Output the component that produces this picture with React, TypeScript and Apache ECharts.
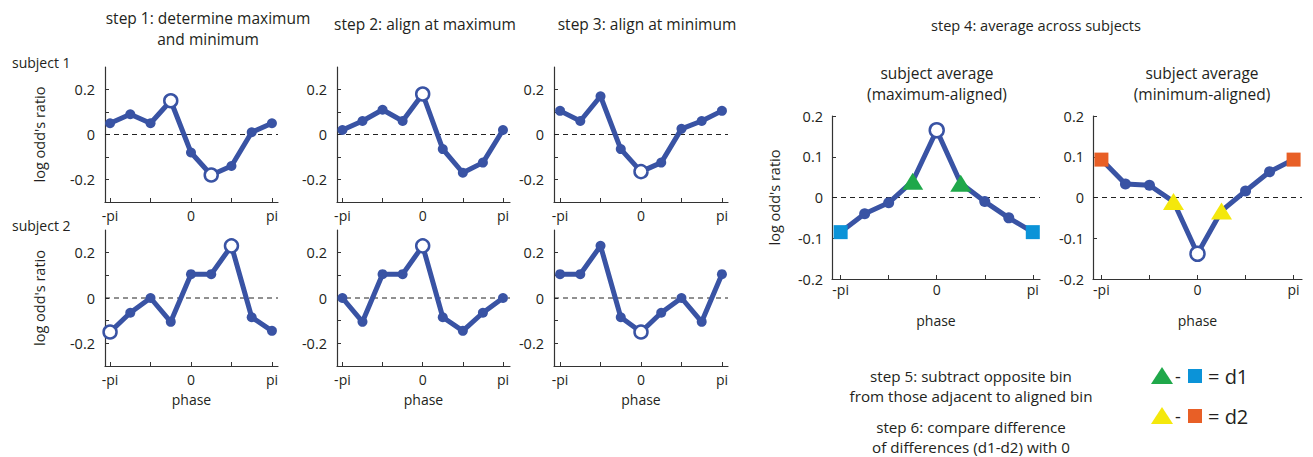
import React, { useEffect, useRef } from "react";
import * as echarts from "echarts";

// ---- data ----
const phaseTicks = [0, 2, 4, 6, 8];
const phaseLabelValues = [0, 4, 8];
const phaseLabels = ["-pi", "0", "pi"];

const subject1Step1 = [0.05, 0.09, 0.05, 0.15, -0.08, -0.18, -0.14, 0.01, 0.05];
const subject1Step2 = [0.02, 0.06, 0.11, 0.06, 0.18, -0.065, -0.17, -0.125, 0.02];
const subject1Step3 = [0.105, 0.06, 0.17, -0.065, -0.165, -0.125, 0.025, 0.06, 0.105];
const subject2Step1 = [-0.15, -0.065, 0, -0.105, 0.105, 0.105, 0.23, -0.085, -0.145];
const subject2Step2 = [0, -0.105, 0.105, 0.105, 0.23, -0.085, -0.145, -0.065, 0];
const subject2Step3 = [0.105, 0.105, 0.23, -0.085, -0.15, -0.065, 0, -0.105, 0.105];
const avgMaxAligned = [-0.085, -0.04, -0.013, 0.04, 0.165, 0.035, -0.01, -0.05, -0.085];
const avgMinAligned = [0.093, 0.033, 0.03, -0.01, -0.138, -0.033, 0.016, 0.063, 0.093];

const subjectTicks = [-0.2, -0.1, 0, 0.1, 0.2];
const subjectTickLabels = [-0.2, 0, 0.2];
const averageTicks = [-0.2, -0.1, 0, 0.1, 0.2];

// ---- styles ----
const BLUE = "#3953a4";
const GREEN = "#1fa84a";
const LIGHTBLUE = "#0b93d8";
const ORANGE = "#e85f26";
const YELLOW = "#f4e80c";
const TEXT = "#231f20";
const FONT = "'Open Sans', 'Noto Sans', sans-serif";

type Panel = {
  data: number[];
  left: number;
  top: number;
  width: number;
  height: number;
  xMin: number;
  xMax: number;
  yMin: number;
  yMax: number;
  yTicks: number[];
  yLabels: number[];
  yName?: boolean;
  xName?: boolean;
  avg?: boolean;
  open: "both" | "max" | "min";
  tri?: string;
  sq?: string;
};

const panels: Panel[] = [
  { data: subject1Step1, left: 105, top: 67, width: 173, height: 135, xMin: -0.25, xMax: 8.3, yMin: -0.3, yMax: 0.3, yTicks: subjectTicks, yLabels: subjectTickLabels, yName: true, open: "both" },
  { data: subject1Step2, left: 337, top: 67, width: 173, height: 135, xMin: -0.27, xMax: 8.35, yMin: -0.3, yMax: 0.3, yTicks: subjectTicks, yLabels: subjectTickLabels, open: "max" },
  { data: subject1Step3, left: 554, top: 67, width: 174, height: 135, xMin: -0.3, xMax: 8.3, yMin: -0.3, yMax: 0.3, yTicks: subjectTicks, yLabels: subjectTickLabels, open: "min" },
  { data: subject2Step1, left: 105, top: 230, width: 173, height: 136, xMin: -0.25, xMax: 8.3, yMin: -0.3, yMax: 0.3, yTicks: subjectTicks, yLabels: subjectTickLabels, yName: true, xName: true, open: "both" },
  { data: subject2Step2, left: 337, top: 230, width: 173, height: 136, xMin: -0.27, xMax: 8.35, yMin: -0.3, yMax: 0.3, yTicks: subjectTicks, yLabels: subjectTickLabels, xName: true, open: "max" },
  { data: subject2Step3, left: 554, top: 230, width: 174, height: 136, xMin: -0.3, xMax: 8.3, yMin: -0.3, yMax: 0.3, yTicks: subjectTicks, yLabels: subjectTickLabels, xName: true, open: "min" },
  { data: avgMaxAligned, left: 832, top: 116, width: 208, height: 163, xMin: -0.36, xMax: 8.3, yMin: -0.2, yMax: 0.2, yTicks: averageTicks, yLabels: averageTicks, yName: true, xName: true, avg: true, open: "max", tri: GREEN, sq: LIGHTBLUE },
  { data: avgMinAligned, left: 1093, top: 116, width: 209, height: 163, xMin: -0.35, xMax: 8.35, yMin: -0.2, yMax: 0.2, yTicks: averageTicks, yLabels: averageTicks, xName: true, avg: true, open: "min", tri: YELLOW, sq: ORANGE },
];

function argMax(a: number[]) {
  let k = 0;
  a.forEach((v, i) => { if (v > a[k]) k = i; });
  return k;
}
function argMin(a: number[]) {
  let k = 0;
  a.forEach((v, i) => { if (v < a[k]) k = i; });
  return k;
}

function fmtY(v: number) {
  if (Math.abs(v) < 1e-9) return "0";
  return v.toFixed(1);
}

function buildOption() {
  const grid: any[] = [];
  const xAxis: any[] = [];
  const yAxis: any[] = [];
  const series: any[] = [];

  panels.forEach((p, gi) => {
    grid.push({ left: p.left, top: p.top, width: p.width, height: p.height, containLabel: false });
    xAxis.push({
      type: "value",
      gridIndex: gi,
      min: p.xMin,
      max: p.xMax,
      splitLine: { show: false },
      axisLine: { show: true, onZero: false, lineStyle: { color: "#333", width: 1.2 } },
      axisTick: { show: true, inside: true, length: 4, customValues: phaseTicks, lineStyle: { color: "#333" } },
      axisLabel: {
        show: true,
        customValues: phaseLabelValues,
        formatter: (v: number) => phaseLabels[phaseLabelValues.indexOf(Math.round(v))] ?? "",
        margin: p.avg ? 3 : 6,
        color: TEXT,
        fontSize: 14,
        lineHeight: 14,
        fontFamily: FONT,
      },
      name: p.xName ? "phase" : "",
      nameLocation: "middle",
      nameGap: p.avg ? 34 : 26,
      nameMoveOverlap: false,
      nameTextStyle: { color: TEXT, fontSize: 14, lineHeight: 14, fontFamily: FONT },
    });
    yAxis.push({
      type: "value",
      gridIndex: gi,
      min: p.yMin,
      max: p.yMax,
      splitLine: { show: false },
      axisLine: { show: true, onZero: false, lineStyle: { color: "#333", width: 1.2 } },
      axisTick: { show: true, inside: true, length: 4, customValues: p.yTicks, lineStyle: { color: "#333" } },
      axisLabel: {
        show: true,
        customValues: p.yLabels,
        formatter: fmtY,
        margin: p.avg ? 9 : 10,
        color: TEXT,
        fontSize: 14.5,
        fontFamily: FONT,
      },
      name: p.yName ? "log odd's ratio" : "",
      nameLocation: "middle",
      nameGap: p.avg ? 50 : 58,
      nameMoveOverlap: false,
      nameTextStyle: { color: TEXT, fontSize: 14.5, fontFamily: FONT },
    });

    // zero reference line (dashed)
    series.push({
      type: "line",
      xAxisIndex: gi,
      yAxisIndex: gi,
      data: [[p.xMin, 0], [p.xMax, 0]],
      symbol: "none",
      silent: true,
      z: 1,
      lineStyle: { color: "#222", width: 1, type: [5, 4] },
    });

    const mx = argMax(p.data);
    const mn = argMin(p.data);
    const openIdx: number[] =
      p.open === "both" ? [mx, mn] : p.open === "max" ? [mx] : [mn];
    const aligned = p.open === "max" ? mx : mn;
    const last = p.data.length - 1;

    const data = p.data.map((v, i) => {
      const item: any = { value: [i, v] };
      if (openIdx.includes(i)) {
        item.symbol = "circle";
        item.symbolSize = p.avg ? 14 : 13;
        item.itemStyle = { color: "#ffffff", borderColor: BLUE, borderWidth: 2.5 };
      } else if (p.avg && p.tri && (i === aligned - 1 || i === aligned + 1)) {
        item.symbol = "triangle";
        item.symbolSize = [21, 17];
        item.itemStyle = { color: p.tri, borderWidth: 0 };
      } else if (p.avg && p.sq && (i === 0 || i === last)) {
        item.symbol = "rect";
        item.symbolSize = 14;
        item.itemStyle = { color: p.sq, borderWidth: 0 };
      }
      return item;
    });

    series.push({
      type: "line",
      xAxisIndex: gi,
      yAxisIndex: gi,
      data,
      z: 3,
      symbol: "circle",
      symbolSize: p.avg ? 11 : 10,
      showSymbol: true,
      showAllSymbol: true,
      lineStyle: { color: BLUE, width: 5 },
      itemStyle: { color: BLUE },
    });
  });

  const t = (text: string, x: number, y: number, size = 15.5, align = "center", extra: any = {}) => ({
    type: "text",
    x,
    y,
    silent: true,
    style: {
      text,
      fill: TEXT,
      fontSize: size,
      fontFamily: FONT,
      align,
      verticalAlign: "middle",
      textAlign: align,
      textVerticalAlign: "middle",
      ...extra,
    },
  });

  const tri = (cx: number, cy: number, color: string) => ({
    type: "polygon",
    silent: true,
    shape: { points: [[cx - 11, cy + 8], [cx + 11, cy + 8], [cx, cy - 9]] },
    style: { fill: color },
  });
  const sq = (cx: number, cy: number, color: string) => ({
    type: "rect",
    silent: true,
    shape: { x: cx - 7, y: cy - 7, width: 14, height: 14 },
    style: { fill: color },
  });

  const graphic: any[] = [
    t("step 1: determine maximum", 208, 18),
    t("and minimum", 208, 39),
    t("step 2: align at maximum", 425, 24),
    t("step 3: align at minimum", 647, 24),
    t("step 4: average across subjects", 1036, 25, 14.6),
    t("subject 1", 12, 62, 14, "left"),
    t("subject 2", 12, 225, 14, "left"),
    t("subject average", 937, 73),
    t("(maximum-aligned)", 937, 94),
    t("subject average", 1202, 73),
    t("(minimum-aligned)", 1202, 94),
    t("step 5: subtract opposite bin", 971, 376, 15.2),
    t("from those adjacent to aligned bin", 971, 396, 15.2),
    t("step 6: compare difference", 971, 427, 15.2),
    t("of differences (d1-d2) with 0", 971, 447, 15.2),
    tri(1162, 376, GREEN),
    t("-", 1178, 376, 18),
    sq(1195, 376, LIGHTBLUE),
    t("= d1", 1208, 376, 20, "left"),
    tri(1162, 416, YELLOW),
    t("-", 1178, 416, 18),
    sq(1195, 416, ORANGE),
    t("= d2", 1208, 416, 20, "left"),
  ];

  return {
    animation: false,
    backgroundColor: "#ffffff",
    grid,
    xAxis,
    yAxis,
    series,
    graphic,
  };
}

export default function App() {
  const ref = useRef<HTMLDivElement>(null);
  useEffect(() => {
    if (!ref.current) return;
    const chart = echarts.init(ref.current, null, { renderer: "svg" });
    chart.setOption(buildOption() as any);
    return () => chart.dispose();
  }, []);
  return (
    <div
      ref={ref}
      style={{ position: "fixed", left: 0, top: 0, width: 1313, height: 457, background: "#fff" }}
    />
  );
}
